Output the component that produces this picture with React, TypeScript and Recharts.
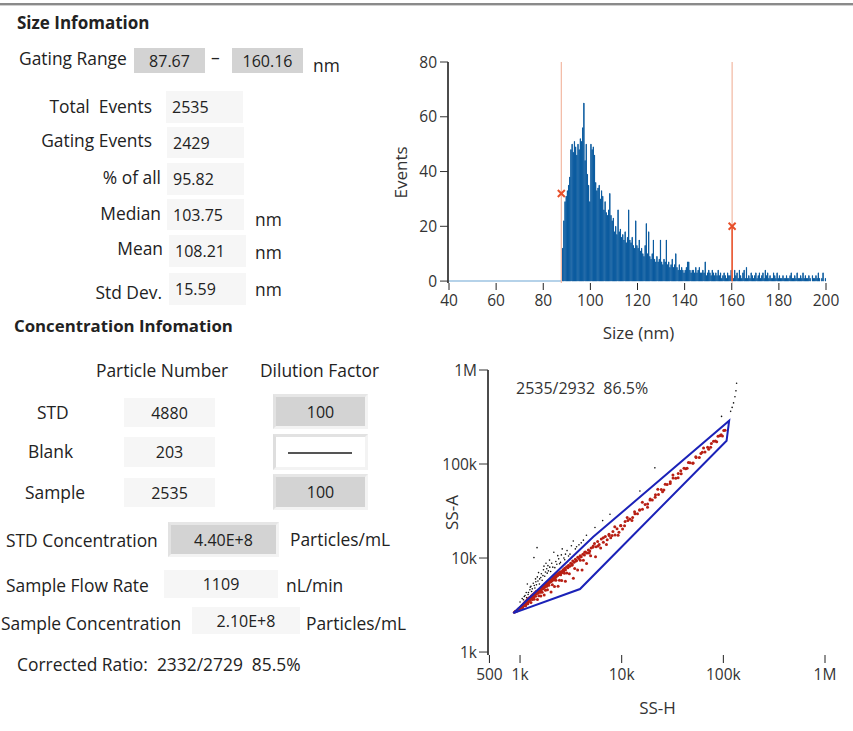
import React from "react";
import {
  Bar,
  ComposedChart,
  ReferenceLine,
  Scatter,
  ScatterChart,
  XAxis,
  YAxis,
} from "recharts";

const FONT = '"Open Sans", "Noto Sans", sans-serif';

// ---- size histogram: 0.5 nm bins starting at 88 nm ----
const BIN_START = 88;
const BIN_WIDTH = 0.5;
const sizeCounts = [
  // 88 - 99.5
  12, 22, 29, 31, 33, 35, 38, 48, 50, 47, 51, 49, 46, 50, 48, 52, 51, 56, 65, 44, 50, 39, 35, 29,
  // 100 - 109.5
  50, 48, 49, 46, 36, 33, 34, 35, 30, 33, 31, 26, 29, 25, 24, 26, 32, 24, 22, 23,
  // 110 - 119.5
  18, 20, 17, 26, 18, 19, 16, 17, 15, 18, 14, 16, 26, 15, 14, 16, 13, 12, 22, 13,
  // 120 - 129.5
  12, 15, 11, 12, 10, 9, 13, 21, 10, 18, 9, 8, 10, 15, 8, 7, 9, 7, 8, 15,
  // 130 - 139.5
  7, 6, 8, 7, 15, 6, 7, 5, 6, 8, 5, 6, 10, 5, 4, 6, 4, 5, 4, 3,
  // 140 - 149.5
  4, 5, 7, 7, 4, 3, 4, 4, 3, 5, 3, 4, 5, 3, 3, 4, 3, 7, 2, 3,
  // 150 - 159.5
  4, 3, 2, 4, 3, 2, 3, 2, 4, 2, 3, 1, 2, 3, 2, 1, 3, 2, 2, 4,
  // 160 - 179.5
  2, 1, 4, 2, 3, 1, 4, 2, 1, 3, 4, 1, 5, 1, 2, 1, 3, 2, 1, 2,
  3, 1, 2, 3, 1, 2, 3, 1, 4, 2, 3, 1, 2, 1, 1, 3, 2, 1, 3, 1,
  // 180 - 199.5
  2, 1, 1, 2, 1, 1, 2, 1, 1, 2, 3, 1, 1, 2, 1, 3, 1, 1, 2, 1,
  3, 1, 2, 1, 1, 2, 1, 0, 2, 1, 1, 2, 1, 3, 1, 0, 1, 3, 0, 1,
];
const sizeTicks = [40, 60, 80, 100, 120, 140, 160, 180, 200];
const eventTicks = [0, 20, 40, 60, 80];
const gateLow = 87.67;
const gateHigh = 160.16;
const gateMarkers = [
  { size: 87.67, count: 32 },
  { size: 160.16, count: 20 },
];

const histData = sizeCounts.map((count, i) => ({
  size: BIN_START + BIN_WIDTH * (i + 0.5),
  count,
}));

// ---- SS-H vs SS-A scatter ----
const inGate: [number, number][] = [
  [880, 2650], [900, 2720], [920, 2700], [940, 2800], [950, 2760], [970, 2880], [980, 2830], [1000, 2950], [1000, 2870], [1010, 3000],
  [1030, 3050], [1050, 3150], [1060, 2980], [1080, 3250], [1100, 3300], [1100, 3150], [1120, 3400], [1130, 3250], [1150, 3500], [1160, 3350],
  [1180, 3600], [1200, 3450], [1200, 3700], [1220, 3550], [1240, 3800], [1250, 3600], [1270, 3700], [1290, 3950], [1300, 3750], [1320, 3850],
  [1340, 4100], [1350, 3900], [1370, 4000], [1390, 4250], [1400, 4050], [1420, 4150], [1440, 4400], [1450, 4200], [1470, 4300], [1490, 4450],
  [1500, 4250], [1520, 4400], [1540, 4600], [1560, 4350], [1580, 4700], [1600, 4500], [1630, 4800], [1650, 4650], [1680, 4950], [1700, 4750],
  [1720, 5100], [1750, 4900], [1780, 5200], [1800, 5050], [1820, 5400], [1850, 5200], [1880, 5500], [1900, 5300], [1930, 5700], [1950, 5500],
  [1980, 5850], [2000, 5600], [2030, 5900], [2050, 5700], [2100, 6100], [2120, 5900], [2150, 6300], [2200, 6100], [2230, 6500], [2260, 6300],
  [2300, 6700], [2340, 6500], [2380, 6900], [2420, 6700], [2460, 7100], [2500, 6900], [2550, 7200], [2600, 7000], [2650, 7500], [2700, 7300],
  [2750, 7800], [2800, 7500], [2870, 8100], [2950, 7900], [3000, 8400], [3080, 8200], [3150, 8800], [3250, 8600], [3300, 9300], [3400, 9000],
  [3500, 9700], [3600, 9400], [3700, 10200], [3800, 9900], [3900, 10600], [4000, 10300], [4150, 11000], [4300, 10800], [4400, 11600], [4550, 11300],
  [4700, 12200], [4850, 11900], [5000, 12800], [5200, 13000], [5400, 14300], [5600, 13200], [5800, 15000], [6000, 13900], [6300, 15900], [6600, 14700],
  [6900, 16900], [7200, 15600], [7500, 17900], [7800, 16400], [8200, 19100], [8600, 17600], [9000, 20500], [9400, 18800], [9800, 22000], [10200, 20300],
  [10800, 24500], [11500, 25000], [12000, 26000], [12800, 27000], [13500, 29500], [14300, 29500], [15000, 32500], [16000, 33000], [17000, 37000], [18000, 37500],
  [19000, 41500], [20000, 41500], [21500, 47000], [23000, 47500], [24500, 53500], [26000, 53000], [28000, 60500], [30000, 62000], [32000, 71000], [34000, 70500],
  [36000, 79500], [38500, 79000], [41000, 90000], [44000, 90000], [47000, 103000], [50000, 102000], [54000, 117000], [58000, 117000], [62000, 133000], [66000, 134000],
  [70000, 151000], [75000, 151000], [80000, 175000], [86000, 172000], [92000, 200000], [98000, 198000], [104000, 228000],
  // lower / scattered part of the band
  [1000, 2911], [1060, 3013], [1057, 3000], [1090, 3115], [1123, 3236], [1135, 3102], [1170, 3261], [1205, 3424],
  [1193, 3268], [1230, 3500], [1267, 3661], [1280, 3372], [1320, 3612], [1360, 3838], [1377, 3645], [1420, 3925], [1463, 4212],
  [1484, 3622], [1530, 3972], [1576, 4325], [1600, 3952], [1650, 4330], [1700, 4825], [1727, 4054], [1780, 4553], [1833, 4998],
  [1862, 4591], [1920, 5138], [1978, 5636], [2018, 4341], [2080, 5198], [2142, 5820], [2183, 4981], [2250, 5808], [2318, 6485],
  [2367, 5023], [2440, 5815], [2513, 6646], [2570, 5768], [2730, 6900], [2794, 5664], [2880, 6926], [2966, 8016], [3056, 6797], [3245, 8357],
  [3347, 6090], [3450, 7734], [3554, 9316], [3686, 7450], [3914, 9450], [4074, 7467], [4200, 9493], [4326, 11493], [4511, 8733], [4790, 11298],
  [4947, 10594], [5253, 13421], [5529, 10322], [5871, 13412], [6208, 12750], [6592, 16475], [7081, 13929], [7519, 17406], [8051, 17316], [8549, 21530],
  [9215, 17445], [9785, 22117], [10670, 22007], [11330, 27049], [12610, 25044], [13390, 31050], [15035, 32350], [15965, 39200], [17945, 34581], [19055, 42492],
  [21340, 44300], [22660, 54018], [25220, 50679], [26780, 60882], [30070, 64803], [31930, 76186], [35890, 71328], [38110, 84757], [42680, 89254], [45320, 104063],
  [50440, 102755], [53560, 119602], [60140, 129466], [63860, 147838], [71780, 143262], [76220, 164933], [83420, 175336], [88580, 197564], [95060, 204469], [100940, 227064],
];
const outGate: [number, number][] = [
  [1000, 3400], [1050, 3700], [1100, 3900], [1150, 4300], [1180, 5300], [1200, 4100], [1250, 4600], [1280, 5000], [1300, 4400], [1350, 5400],
  [1370, 10100], [1400, 4800], [1420, 6000], [1450, 5200], [1470, 12900], [1500, 5700], [1520, 7000], [1550, 5300], [1600, 6200], [1650, 5800],
  [1700, 7500], [1750, 6400], [1800, 8800], [1850, 6900], [1900, 7300], [1950, 9500], [2000, 7200], [2100, 8000], [2150, 11500], [2200, 7900],
  [2300, 8600], [2400, 9800], [2500, 9000], [2600, 12500], [2700, 10000], [2800, 11000], [3000, 10500], [3200, 13500], [3340, 15200], [3500, 12500],
  [3800, 13800], [4200, 15500], [4500, 17500], [5460, 21100], [6500, 25000], [7670, 29200], [15100, 51600], [21200, 91000],
  [1080, 3600], [1120, 4000], [1160, 3800], [1210, 4300], [1260, 4900], [1320, 4700], [1380, 5100], [1430, 5600], [1480, 6300], [1560, 6000],
  [1620, 6800], [1680, 6500], [1720, 8200], [1780, 7100], [1830, 7700], [1880, 8300], [1960, 8000], [2050, 8800], [2250, 9200], [2350, 10600],
  [2450, 8700], [2550, 10800], [2750, 9600], [2900, 12000], [3100, 11000], [3600, 13200], [4000, 14500],
  [96000, 321000], [118000, 363000], [122000, 400000], [126000, 447000], [130000, 520000], [133000, 600000], [135000, 724000],
];
const gatePolygon: [number, number][] = [
  [859, 2590], [5260, 16800], [114000, 289000], [107600, 177000], [3890, 4680], [859, 2590],
];
const ssHTicks = [500, 1000, 10000, 100000, 1000000];
const ssATicks = [1000, 10000, 100000, 1000000];

const toPts = (arr: [number, number][]) => arr.map(([h, a]) => ({ h, a }));

const fmtLog = (v: number) => {
  if (v >= 1000000) return `${v / 1000000}M`;
  if (v >= 1000) return `${v / 1000}k`;
  return `${v}`;
};

const XMark = (p: any) => (
  <g stroke="#e8502a" strokeWidth={2}>
    <line x1={p.cx - 3.5} y1={p.cy - 3.5} x2={p.cx + 3.5} y2={p.cy + 3.5} />
    <line x1={p.cx - 3.5} y1={p.cy + 3.5} x2={p.cx + 3.5} y2={p.cy - 3.5} />
  </g>
);
const RedDot = (p: any) => <circle cx={p.cx} cy={p.cy} r={1.5} fill="#b81f14" />;
const BlackDot = (p: any) => <circle cx={p.cx} cy={p.cy} r={0.8} fill="#111" />;
const NoDot = () => <g />;

const tickStyle = { fontSize: 15.5, fill: "#333", fontFamily: FONT };
const titleStyle = { fontSize: 17, fill: "#333", fontFamily: FONT };

// ---- left panel helpers ----
function T({ x, cy, children, size = 17.4, bold = false, right = false }: any) {
  const lh = 24;
  const style: any = {
    position: "absolute",
    top: cy - lh / 2,
    lineHeight: `${lh}px`,
    fontSize: size,
    fontWeight: bold ? 700 : 400,
    whiteSpace: "pre",
    color: "#222",
  };
  if (right) style.right = 853 - x;
  else style.left = x;
  return <div style={style}>{children}</div>;
}

function Field({ x, y, w, h, text, gray = false, bevel = false, center = false, tx = 6 }: any) {
  return (
    <div
      style={{
        position: "absolute",
        left: x,
        top: y,
        width: w,
        height: h,
        boxSizing: "border-box",
        background: gray ? "#d3d3d3" : "#f6f6f6",
        border: bevel ? "3px solid" : "none",
        borderColor: "#e6e6e6 #f3f3f3 #f3f3f3 #e2e2e2",
        display: "flex",
        alignItems: "center",
        justifyContent: center ? "center" : "flex-start",
        paddingLeft: center ? 0 : tx,
        fontSize: 16,
        color: "#222",
      }}
    >
      {text}
    </div>
  );
}

const sizeLabels = ["Total  Events", "Gating Events", "% of all", "Median", "Mean", "Std Dev."];
const sizeValues = ["2535", "2429", "95.82", "103.75", "108.21", "15.59"];
const sizeLabelRight = [152, 152, 161, 161, 163, 162];
const sizeLabelY = [106, 140, 177, 213, 248, 292];
const sizeBoxes = [
  [166, 91, 77, 32], [167, 127, 77, 31], [167, 163, 77, 32],
  [167, 199, 77, 31], [169, 235, 77, 32], [169, 273, 77, 32],
];
const unitY = [null, null, null, 219, 252, 289];

export default function App() {
  return (
    <div
      style={{
        position: "absolute",
        left: 0,
        top: 0,
        width: 853,
        height: 731,
        background: "#fff",
        overflow: "hidden",
        fontFamily: FONT,
      }}
    >
      <div style={{ position: "absolute", left: 0, top: 3, width: 853, height: 2, background: "#8a8a8a" }} />
      <div style={{ position: "absolute", left: 0, top: 5, width: 853, height: 1, background: "#d0d0d0" }} />

      {/* size info */}
      <T x={17} cy={23} size={17} bold>Size Infomation</T>
      <T x={19} cy={58}>Gating Range</T>
      <Field x={134} y={48} w={71} h={25} gray center text="87.67" />
      <T x={211} cy={57}>–</T>
      <Field x={232} y={48} w={71} h={25} gray center text="160.16" />
      <T x={313} cy={65}>nm</T>
      {sizeLabels.map((l, i) => (
        <React.Fragment key={l}>
          <T x={sizeLabelRight[i]} cy={sizeLabelY[i]} right>{l}</T>
          <Field x={sizeBoxes[i][0]} y={sizeBoxes[i][1]} w={sizeBoxes[i][2]} h={sizeBoxes[i][3]} text={sizeValues[i]} />
          {unitY[i] !== null && <T x={255} cy={unitY[i]}>nm</T>}
        </React.Fragment>
      ))}

      {/* concentration info */}
      <T x={14} cy={326} size={16.8} bold>Concentration Infomation</T>
      <T x={96} cy={370}>Particle Number</T>
      <T x={260} cy={370}>Dilution Factor</T>
      <T x={37} cy={412}>STD</T>
      <T x={28} cy={451}>Blank</T>
      <T x={25} cy={492}>Sample</T>
      <Field x={124} y={398} w={91} h={29} center text="4880" />
      <Field x={124} y={437} w={91} h={30} center text="203" />
      <Field x={124} y={478} w={91} h={29} center text="2535" />
      <Field x={273} y={394} w={95} h={35} gray bevel center text="100" />
      <div
        style={{
          position: "absolute", left: 273, top: 434, width: 95, height: 36, boxSizing: "border-box",
          background: "#fff", border: "3px solid", borderColor: "#e2e2e2 #f3f3f3 #f3f3f3 #dedede",
        }}
      >
        <div style={{ position: "absolute", left: 12, top: 15, width: 64, height: 1.5, background: "#555" }} />
      </div>
      <Field x={273} y={474} w={95} h={36} gray bevel center text="100" />

      <T x={6} cy={540}>STD Concentration</T>
      <Field x={168} y={522} w={111} h={35} gray bevel center text="4.40E+8" />
      <T x={290} cy={539}>Particles/mL</T>
      <T x={6} cy={585}>Sample Flow Rate</T>
      <Field x={164} y={570} w={114} h={28} center text="1109" />
      <T x={286} cy={585}>nL/min</T>
      <T x={1} cy={623}>Sample Concentration</T>
      <Field x={192} y={607} w={108} h={27} center text="2.10E+8" />
      <T x={306} cy={623}>Particles/mL</T>
      <T x={17} cy={664}>{"Corrected Ratio:  2332/2729  85.5%"}</T>

      {/* histogram */}
      <div style={{ position: "absolute", left: 380, top: 40 }}>
        <ComposedChart
          width={460}
          height={305}
          data={histData}
          margin={{ top: 22, right: 11, bottom: 0, left: 0 }}
          barCategoryGap={0}
          barGap={0}
        >
          <XAxis
            type="number"
            dataKey="size"
            domain={[40, 200]}
            ticks={sizeTicks}
            padding={{ left: 1, right: 3 }}
            axisLine={false}
            tickLine={{ stroke: "#222" }}
            tickSize={7}
            tickMargin={5}
            tick={tickStyle}
            height={62}
            label={{ value: "Size (nm)", position: "insideBottom", offset: 6, style: titleStyle }}
          />
          <XAxis xAxisId="top" orientation="top" type="number" domain={[40, 200]} tick={false} tickLine={false} axisLine={{ stroke: "#111", strokeWidth: 2 }} height={0} />
          <YAxis
            type="number"
            domain={[-0.7, 80]}
            ticks={eventTicks}
            width={68}
            axisLine={{ stroke: "#111", strokeWidth: 1.5 }}
            tickLine={{ stroke: "#333" }}
            tickSize={8}
            tickMargin={3}
            tick={tickStyle}
            label={{ value: "Events", angle: -90, position: "insideLeft", offset: 21, style: { ...titleStyle, textAnchor: "middle" } }}
          />
          <YAxis yAxisId="right" orientation="right" type="number" domain={[0, 1]} tick={false} tickLine={false} axisLine={{ stroke: "#9a9a9a" }} width={0} />
          <ReferenceLine segment={[{ x: 40, y: 0 }, { x: gateLow, y: 0 }]} stroke="#9dc3e2" strokeWidth={1.5} />
          <Bar dataKey="count" fill="#0b5b9f" stroke="#0b5b9f" strokeWidth={1} isAnimationActive={false} />
          <ReferenceLine x={gateLow} stroke="#f2b8a2" strokeWidth={1.2} />
          <ReferenceLine x={gateHigh} stroke="#f2b8a2" strokeWidth={1.2} />
          <ReferenceLine segment={[{ x: gateHigh, y: 0 }, { x: gateHigh, y: 20 }]} stroke="#e8502a" strokeWidth={1.5} />
          <Scatter data={gateMarkers} dataKey="count" shape={XMark} isAnimationActive={false} />
        </ComposedChart>
      </div>

      {/* SS-H / SS-A scatter */}
      <div style={{ position: "absolute", left: 420, top: 350 }}>
        <ScatterChart width={425} height={375} margin={{ top: 20, right: 18, bottom: 0, left: 0 }}>
          <XAxis
            type="number"
            dataKey="h"
            scale="log"
            domain={[484, 1046000]}
            ticks={ssHTicks}
            tickFormatter={fmtLog}
            axisLine={false}
            tickLine={{ stroke: "#222" }}
            tickSize={8}
            tickMargin={6}
            tick={tickStyle}
            height={70}
            allowDataOverflow
            label={{ value: "SS-H", position: "insideBottom", offset: 11, style: titleStyle }}
          />
          <XAxis xAxisId="top" orientation="top" type="number" domain={[0, 1]} tick={false} tickLine={false} axisLine={{ stroke: "#111", strokeWidth: 2 }} height={0} />
          <YAxis
            type="number"
            dataKey="a"
            scale="log"
            domain={[930, 1000000]}
            ticks={ssATicks}
            tickFormatter={fmtLog}
            width={68}
            axisLine={{ stroke: "#111", strokeWidth: 1.5 }}
            tickLine={{ stroke: "#333" }}
            tickSize={9}
            tickMargin={2}
            tick={tickStyle}
            allowDataOverflow
            label={{ value: "SS-A", angle: -90, position: "insideLeft", offset: 32, style: { ...titleStyle, textAnchor: "middle" } }}
          />
          <YAxis yAxisId="right" orientation="right" type="number" domain={[0, 1]} tick={false} tickLine={false} axisLine={{ stroke: "#9a9a9a" }} width={0} />
          <Scatter data={toPts(outGate)} shape={BlackDot} isAnimationActive={false} />
          <Scatter data={toPts(inGate)} shape={RedDot} isAnimationActive={false} />
          <Scatter
            data={toPts(gatePolygon)}
            shape={NoDot}
            line={{ stroke: "#1b22b8", strokeWidth: 2 }}
            lineType="joint"
            isAnimationActive={false}
          />
        </ScatterChart>
      </div>
      <div style={{ position: "absolute", left: 516, top: 377, fontSize: 16, lineHeight: "22px", color: "#333", whiteSpace: "pre" }}>
        {"2535/2932  86.5%"}
      </div>
    </div>
  );
}
